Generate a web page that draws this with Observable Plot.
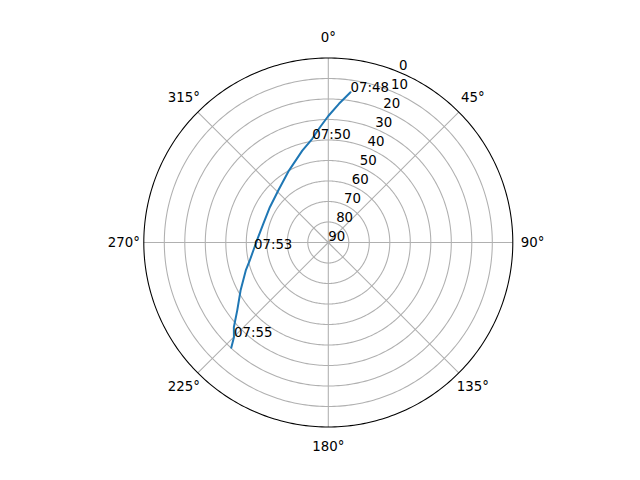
<!DOCTYPE html>
<html>
<head>
<meta charset="utf-8">
<script src="https://cdn.jsdelivr.net/npm/d3@7"></script>
<script src="https://cdn.jsdelivr.net/npm/@observablehq/plot@0.6"></script>
<style>
html, body { margin: 0; padding: 0; background: #fff; }
</style>
</head>
<body>
<div id="chart"></div>
<script>
// Pass track: azimuth (deg, clockwise from north) and elevation (deg)
const pathAz = [8.4, 0, 351.2, 344.2, 331.3, 316.1, 301.1, 286.0, 274.3, 265.2, 257.1, 251.3, 241.3, 233.3, 228.1, 224.9, 222.7];
const pathEl = [15.9, 28.3, 38.8, 43.4, 50.0, 54.8, 56.7, 57.0, 55.7, 53.6, 50.7, 47.5, 41.2, 34.6, 28.1, 24.8, 20.2];

// Time annotations
const labelTimes = ["07:48", "07:50", "07:53", "07:55"];
const labelAz = [8.4, 351.2, 265.2, 224.9];
const labelEl = [15.9, 38.8, 53.6, 24.8];

// Axis ticks
const angleTicks = [0, 45, 90, 135, 180, 225, 270, 315];
const radialTicks = [0, 10, 20, 30, 40, 50, 60, 70, 80, 90];
const gridEl = [10, 20, 30, 40, 50, 60, 70, 80];

// azimuth -> longitude for a north-pole-centred azimuthal projection (north up, clockwise)
const lon = (az) => 180 - az;

const path = pathAz.map((a, i) => ({lon: lon(a), lat: pathEl[i]}));
const labels = labelTimes.map((t, i) => ({t, lon: lon(labelAz[i]), lat: labelEl[i]}));

const plot = Plot.plot({
  width: 640,
  height: 480,
  marginLeft: 143.3,
  marginRight: 127.7,
  marginTop: 57.3,
  marginBottom: 53.3,
  projection: {
    type: "azimuthal-equidistant",
    rotate: [0, -90],
    domain: {type: "MultiPoint", coordinates: [[0, 0], [90, 0], [180, 0], [-90, 0]]},
    clip: false
  },
  style: {fontFamily: "'DejaVu Sans', sans-serif", fontSize: "13.33px", background: "#fff", color: "#000"},
  marks: [
    Plot.geo(gridEl, {
      geometry: (e) => d3.geoCircle().center([0, 90]).radius(90 - e).precision(1)(),
      stroke: "#b0b0b0", strokeWidth: 1.07, fill: "none", strokeLinecap: "butt"
    }),
    Plot.link(angleTicks, {
      x1: (a) => lon(a), y1: () => 90, x2: (a) => lon(a), y2: () => 0,
      stroke: "#b0b0b0", strokeWidth: 1.07
    }),
    Plot.line(path, {x: "lon", y: "lat", stroke: "#1f77b4", strokeWidth: 2}),
    Plot.geo([90], {
      geometry: (r) => d3.geoCircle().center([0, 90]).radius(r).precision(1)(),
      stroke: "#000", strokeWidth: 1.07, fill: "none"
    }),
    Plot.text(radialTicks, {
      x: () => lon(22.5), y: (d) => d, text: (d) => String(d),
      textAnchor: "start", lineAnchor: "bottom", dy: -2, fontSize: 13.33
    }),
    Plot.text(angleTicks, {
      x: (a) => lon(a), y: () => -9.7, text: (a) => a + "°",
      textAnchor: "middle", lineAnchor: "middle", fontSize: 13.33
    }),
    Plot.text(labels, {
      x: "lon", y: "lat", text: "t",
      textAnchor: "start", lineAnchor: "bottom", fontSize: 13.33
    })
  ]
});
document.getElementById("chart").appendChild(plot);
</script>
</body>
</html>
